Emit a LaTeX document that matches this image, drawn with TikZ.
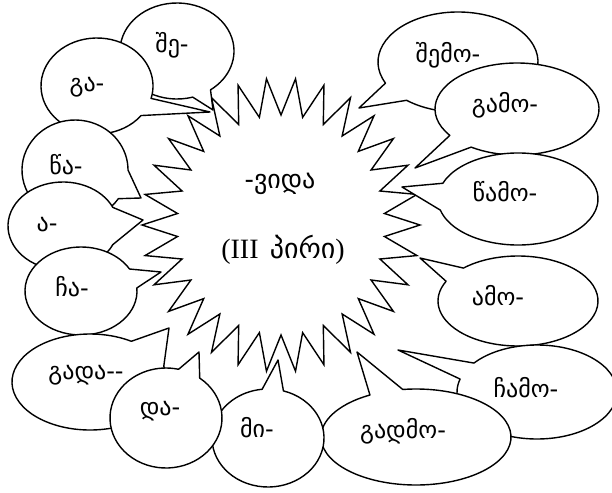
\documentclass[tikz,border=0pt]{standalone}
\usepackage{fontspec}
\setmainfont{Liberation Serif}
\newfontfamily\geofont{DejaVu Sans}
\usetikzlibrary{calc}
\tikzset{
  bubble/.style={draw=black, fill=white, line width=1.4pt, line join=round},
  burst/.style={draw=black, fill=white, line width=1.4pt, line join=miter},
  btext/.style={font=\geofont\fontsize{24}{26}\selectfont, inner sep=0pt},
  ctext/.style={font=\fontsize{28}{30}\selectfont, inner sep=0pt},
}
% #1 centre, #2 x radius, #3 y radius, #4 #5 opening angles, #6 tail tip
\newcommand{\spbubble}[6]{%
  \draw[bubble] ($(#1)+(#5:#2 and #3)$) arc[start angle=#5, end angle={#4+360}, x radius=#2, y radius=#3] -- #6 -- cycle;}
\begin{document}
\begin{tikzpicture}[x=1pt, y=-1pt]
\useasboundingbox (0,0) rectangle (612,492);
\clip (0,0) rectangle (612,492);
\fill[white] (0,0) rectangle (612,492);
% starburst
\draw[burst] plot[variable=\k, samples at={0,...,59}] ({281+(121.5+17.5*cos(\k*180))*cos(\k*6)}, {225+(128.5+18.5*cos(\k*180))*sin(\k*6)}) -- cycle;
% bubbles, back to front
\spbubble{177,51}{57}{48}{54}{74}{(213,110)}
\spbubble{97,86}{56}{48}{15}{38}{(210,112)}
\spbubble{75,170}{53}{50}{0}{35}{(141,198)}
\spbubble{63,226}{55}{44}{-25}{25}{(143,220)}
\spbubble{81,291}{56}{44}{-30}{-4}{(161,272)}
\spbubble{90,382}{78}{48}{-58}{-19}{(169,328)}
\spbubble{518,301}{80}{45}{-154}{-133}{(420,258)}
\spbubble{537,392}{80}{47}{-164}{-142}{(398,350)}
\spbubble{416,437}{95}{48}{-119}{-98}{(357,352)}
\spbubble{268,438}{56}{49}{-96}{-74}{(278,360)}
\spbubble{166,418}{56}{50}{-77}{-53}{(199,352)}
\spbubble{458,62}{80}{50}{130}{155}{(359,108)}
\spbubble{517,109}{82}{46}{124}{145}{(415,168)}
\spbubble{518,199}{80}{46}{166}{200}{(402,187)}
% texts
\node[btext] (she) at (172,45) {შე-};
\node[btext] (ga) at (87,87) {გა-};
\node[btext] (tsa) at (66,165) {წა-};
\node[btext] (a) at (47,225) {ა-};
\node[btext] (cha) at (72,287) {ჩა-};
\node[btext] (gada) at (86,375) {გადა--};
\node[btext] (da) at (160,411) {და-};
\node[btext] (mi) at (257,428) {მი-};
\node[btext] (gadmo) at (403,431) {გადმო-};
\node[btext] (chamo) at (526,388) {ჩამო-};
\node[btext] (amo) at (498,296) {ამო-};
\node[btext] (shemo) at (448,55) {შემო-};
\node[btext] (gamo) at (505,105) {გამო-};
\node[btext] (tsamo) at (505,192) {წამო-};
\node[ctext] (verb) at (280,184) {\geofont\fontsize{26}{28}\selectfont -ვიდა};
\node[ctext] (person) at (283,250) {(III\hspace{0.4em}{\geofont პირი})};
\end{tikzpicture}
\end{document}
